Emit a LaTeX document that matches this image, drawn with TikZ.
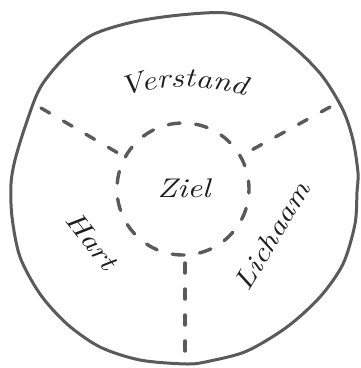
\documentclass[tikz,border=0pt]{standalone}
\usepackage{fontspec}
\newfontfamily\hand{lmroman10-italic.otf}[FakeStretch=1.2]
\usetikzlibrary{decorations.text,calc}
\definecolor{pen}{HTML}{5A5A5A}
\definecolor{ink}{HTML}{1E1E1E}
\tikzset{
  rim/.style={draw=pen, line width=3pt, line join=round},
  spoke/.style={draw=pen, line width=3.4pt, line cap=round, dash pattern=on 10pt off 16pt},
  ring/.style={draw=pen, line width=3.4pt, line cap=round, dash pattern=on 12pt off 15.65pt},
  lbl/.style={font=\fontsize{27}{29}\hand, text=ink, inner sep=0pt}
}
\begin{document}
\begin{tikzpicture}[x=1pt,y=-1pt]
\useasboundingbox (0,0) rectangle (360,368);
% outer hand-drawn circle
\draw[rim] plot[smooth cycle, tension=0.5] coordinates {
  (180,15) (227,13) (263,25) (297,50) (323,77) (343,110) (353,140) (358,173)
  (357,192) (355,224) (343,264) (320,297) (287,327) (247,351) (210,361) (187,364)
  (140,360) (100,347) (67,324) (40,294) (20,257) (12,217) (11,184) (15,160)
  (25,127) (40,88) (64,58) (92,35) (133,22)};
% inner dashed circle
\coordinate (c) at (183,189);
\draw[ring, dash phase=4pt] (c) circle[radius=66pt];
% spokes
\coordinate (ul) at (118,153);
\coordinate (ur) at (248,152);
\coordinate (bo) at (185,263);
\coordinate (ulo) at (41,108);
\coordinate (uro) at (330,107);
\coordinate (boo) at (185,364);
\draw[spoke] (ulo) -- (ul);
\draw[spoke] (uro) -- (ur);
\draw[spoke] (bo) -- (boo);
% labels
\node[lbl, anchor=base] (ziel) at (184,197) {Ziel};
\coordinate (vc) at (185,287);
\node[lbl, anchor=base west, rotate=17.9] (vv) at ($(vc)+(107.9:200pt)$) {V};
\path[decorate, decoration={text along path, text align=left,
  text={|\fontsize{27}{29}\hand\color{ink}|erstand}}]
  (vc) ++(102.2:200pt) arc[start angle=102.2, end angle=68, radius=200pt];
\node[lbl, rotate=-52] (hart) at (92,241) {Hart};
\node[lbl, rotate=59] (lichaam) at (272,236) {Lichaam};
\end{tikzpicture}
\end{document}
